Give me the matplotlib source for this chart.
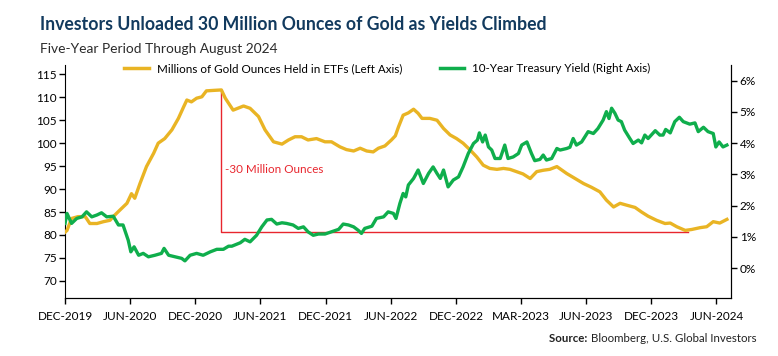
import matplotlib
matplotlib.use('Agg')
import matplotlib.pyplot as plt
from matplotlib import font_manager

# position along the x axis, in tick units (0 = DEC-2019, 1 = JUN-2020, ...)
gold_t = [0.00, 0.03, 0.10, 0.20, 0.31, 0.38, 0.49, 0.59, 0.69, 0.74, 0.84, 0.95,
          1.02, 1.07, 1.15, 1.25, 1.36, 1.43, 1.53, 1.64, 1.74, 1.82, 1.87, 1.94,
          2.02, 2.10, 2.17, 2.28, 2.40, 2.46, 2.58, 2.74, 2.84, 2.97, 3.07, 3.20,
          3.33, 3.43, 3.53, 3.63, 3.73, 3.86, 3.99, 4.09, 4.22, 4.32, 4.43, 4.53,
          4.63, 4.73, 4.81, 4.91, 5.01, 5.07, 5.12, 5.19, 5.27, 5.35, 5.42, 5.48,
          5.60, 5.71, 5.81, 5.91, 6.01, 6.11, 6.22, 6.32, 6.42, 6.52, 6.63, 6.73,
          6.83, 6.93, 7.03, 7.14, 7.24, 7.34, 7.44, 7.55, 7.70, 7.83, 7.96, 8.08,
          8.21, 8.31, 8.42, 8.52, 8.62, 8.75, 8.85, 8.95, 9.08, 9.21, 9.29, 9.39,
          9.52, 9.62, 9.75, 9.85, 9.95, 10.05, 10.16]
gold_oz = [80.6, 81.0, 83.6, 84.0, 84.0, 82.5, 82.5, 82.9, 83.2, 84.0, 85.4, 86.9,
           89.0, 88.0, 91.2, 94.9, 97.8, 100.0, 101.0, 102.9, 105.4, 107.9, 109.4, 109.0,
           109.8, 110.1, 111.4, 111.5, 111.6, 109.8, 107.2, 108.1, 107.6, 105.8, 102.9, 100.3,
           99.8, 100.7, 101.4, 101.4, 100.7, 101.0, 100.3, 100.3, 99.2, 98.6, 98.3, 98.9,
           98.3, 98.1, 98.9, 99.4, 100.7, 101.6, 103.6, 106.1, 106.6, 107.4, 106.5, 105.4,
           105.4, 105.0, 103.2, 101.8, 101.0, 100.0, 98.5, 97.0, 95.2, 94.5, 94.3, 94.5,
           94.3, 93.8, 93.3, 92.3, 93.8, 94.1, 94.3, 94.9, 93.4, 92.3, 91.2, 90.4,
           89.4, 87.6, 86.1, 86.9, 86.5, 86.0, 85.0, 84.1, 83.2, 82.5, 82.6, 81.8,
           81.0, 81.2, 81.6, 81.8, 82.9, 82.6, 83.4]

yield_t = [0.00, 0.03, 0.10, 0.18, 0.26, 0.33, 0.41, 0.49, 0.56, 0.64, 0.74, 0.82,
           0.89, 0.97, 1.01, 1.06, 1.13, 1.20, 1.28, 1.38, 1.48, 1.52, 1.59, 1.69,
           1.79, 1.84, 1.92, 2.02, 2.12, 2.23, 2.33, 2.43, 2.51, 2.56, 2.69, 2.76,
           2.84, 2.94, 3.02, 3.10, 3.17, 3.25, 3.33, 3.40, 3.50, 3.58, 3.66, 3.73,
           3.81, 3.89, 3.99, 4.09, 4.20, 4.27, 4.35, 4.43, 4.50, 4.55, 4.60, 4.71,
           4.78, 4.89, 4.96, 5.04, 5.08, 5.14, 5.19, 5.23, 5.27, 5.35, 5.42, 5.50,
           5.58, 5.65, 5.71, 5.76, 5.81, 5.88, 5.96, 6.04, 6.11, 6.19, 6.27, 6.33,
           6.36, 6.41, 6.45, 6.50, 6.55, 6.60, 6.68, 6.75, 6.80, 6.88, 6.96, 7.01,
           7.09, 7.16, 7.21, 7.29, 7.34, 7.39, 7.47, 7.55, 7.60, 7.70, 7.75, 7.80,
           7.85, 7.93, 8.03, 8.11, 8.18, 8.26, 8.31, 8.35, 8.39, 8.44, 8.49, 8.54,
           8.59, 8.67, 8.72, 8.80, 8.85, 8.90, 8.95, 9.06, 9.13, 9.18, 9.22, 9.29,
           9.36, 9.43, 9.49, 9.59, 9.67, 9.72, 9.80, 9.87, 9.95, 9.99, 10.04, 10.10,
           10.16]
yield_pct = [1.43, 1.75, 1.43, 1.59, 1.64, 1.80, 1.64, 1.70, 1.77, 1.64, 1.66, 1.38,
             1.38, 0.89, 0.52, 0.68, 0.41, 0.47, 0.36, 0.41, 0.47, 0.63, 0.41, 0.36,
             0.31, 0.23, 0.41, 0.47, 0.41, 0.52, 0.60, 0.60, 0.70, 0.70, 0.81, 0.92,
             0.84, 1.05, 1.32, 1.54, 1.56, 1.41, 1.45, 1.43, 1.38, 1.27, 1.32, 1.16,
             1.05, 1.09, 1.09, 1.16, 1.24, 1.41, 1.38, 1.32, 1.21, 1.11, 1.27, 1.34,
             1.59, 1.64, 1.80, 1.75, 1.59, 2.07, 2.39, 2.28, 2.66, 2.87, 3.14, 2.71,
             3.03, 3.24, 3.03, 2.87, 3.14, 2.60, 2.82, 2.92, 3.24, 3.67, 3.99, 4.10,
             4.33, 4.04, 4.26, 3.88, 3.78, 3.51, 3.51, 3.94, 3.51, 3.56, 3.67, 3.94,
             4.04, 3.67, 3.44, 3.48, 3.62, 3.46, 3.51, 3.83, 3.78, 3.83, 3.87, 4.15,
             3.94, 4.04, 4.37, 4.31, 4.47, 4.74, 5.01, 4.79, 5.12, 4.96, 4.74, 4.69,
             4.42, 4.15, 3.99, 4.10, 4.01, 4.26, 4.15, 4.40, 4.26, 4.26, 4.44, 4.33,
             4.69, 4.83, 4.69, 4.61, 4.65, 4.37, 4.51, 4.37, 4.31, 3.88, 4.04, 3.88,
             3.94]

x_labels = ['DEC-2019', 'JUN-2020', 'DEC-2020', 'JUN-2021', 'DEC-2021', 'JUN-2022',
            'DEC-2022', 'MAR-2023', 'JUN-2023', 'DEC-2023', 'JUN-2024']
left_ticks = [70, 75, 80, 85, 90, 95, 100, 105, 110, 115]
right_ticks = [0, 1, 2, 3, 4, 5, 6]

GOLD = '#E9B424'
GREEN = '#0FAE4C'
RED = '#E8262E'
NAVY = '#123A5E'

installed = {f.name for f in font_manager.fontManager.ttflist}
FONT = 'Lato' if 'Lato' in installed else 'DejaVu Sans'
plt.rcParams['font.family'] = [FONT, 'DejaVu Sans']

fig = plt.figure(figsize=(7.78, 3.56), dpi=100)
ax = fig.add_axes([0.0836, 0.162, 0.8566, 0.655])
ax2 = ax.twinx()

ax.plot(gold_t, gold_oz, color=GOLD, lw=2.4, solid_joinstyle='round', zorder=3)
ax2.plot(yield_t, yield_pct, color=GREEN, lw=2.4, solid_joinstyle='round', zorder=3)

# -30 million ounces bracket, from the peak down to the later trough
i_max = gold_oz.index(max(gold_oz))
after = gold_oz[i_max:]
i_min = i_max + after.index(min(after))
ax.plot([gold_t[i_max], gold_t[i_max], gold_t[i_min] + 0.04],
        [gold_oz[i_max], gold_oz[i_min] - 0.3, gold_oz[i_min] - 0.3],
        color=RED, lw=1.0, zorder=2)
ax.text(gold_t[i_max] + 0.05, 94.2, '-30 Million Ounces', color=RED,
        fontsize=8.4, va='center', ha='left')

ax.set_xlim(0, 10.23)
ax.set_ylim(66.2, 117.0)
ax2.set_ylim(-0.97, 6.5)

ax.set_xticks(range(len(x_labels)))
ax.set_xticklabels(x_labels, fontsize=8.3)
ax.set_yticks(left_ticks)
ax2.set_yticks(right_ticks)
ax2.set_yticklabels(['%d%%' % v for v in right_ticks])

for a in (ax, ax2):
    a.spines['top'].set_visible(False)
    a.tick_params(direction='out', length=4, width=1, labelsize=8.5, colors='black')
ax.tick_params(axis='y', pad=2)
ax2.tick_params(axis='y', pad=2)
ax.tick_params(axis='x', pad=5)
ax2.spines['left'].set_visible(False)

fig.text(0.051, 0.915, 'Investors Unloaded 30 Million Ounces of Gold as Yields Climbed',
         fontsize=12.7, fontweight='bold', color=NAVY, va='baseline')
fig.text(0.051, 0.852, 'Five-Year Period Through August 2024',
         fontsize=9.9, color='#2b2b2b', va='baseline')

gold_line = plt.Line2D([], [], color=GOLD, lw=2.5)
green_line = plt.Line2D([], [], color=GREEN, lw=2.5)
fig.legend([gold_line, green_line],
           ['Millions of Gold Ounces Held in ETFs (Left Axis)', '10-Year Treasury Yield (Right Axis)'],
           loc='center', bbox_to_anchor=(0.498, 0.808), ncol=2, frameon=False,
           fontsize=8.4, handlelength=2.1, handletextpad=0.7, columnspacing=3.2)

body = fig.text(0.972, 0.04, 'Bloomberg, U.S. Global Investors', ha='right', va='baseline',
                fontsize=8.3, color='#222222')
src = fig.text(0.0, 0.04, 'Source: ', fontsize=8.3, fontweight='bold',
               color='#222222', va='baseline')
fig.canvas.draw()
rend = fig.canvas.get_renderer()
bb = body.get_window_extent(rend)
hb = src.get_window_extent(rend)
src.set_x((bb.x0 - hb.width) / fig.bbox.width)

fig.savefig('out.png', dpi=100)
